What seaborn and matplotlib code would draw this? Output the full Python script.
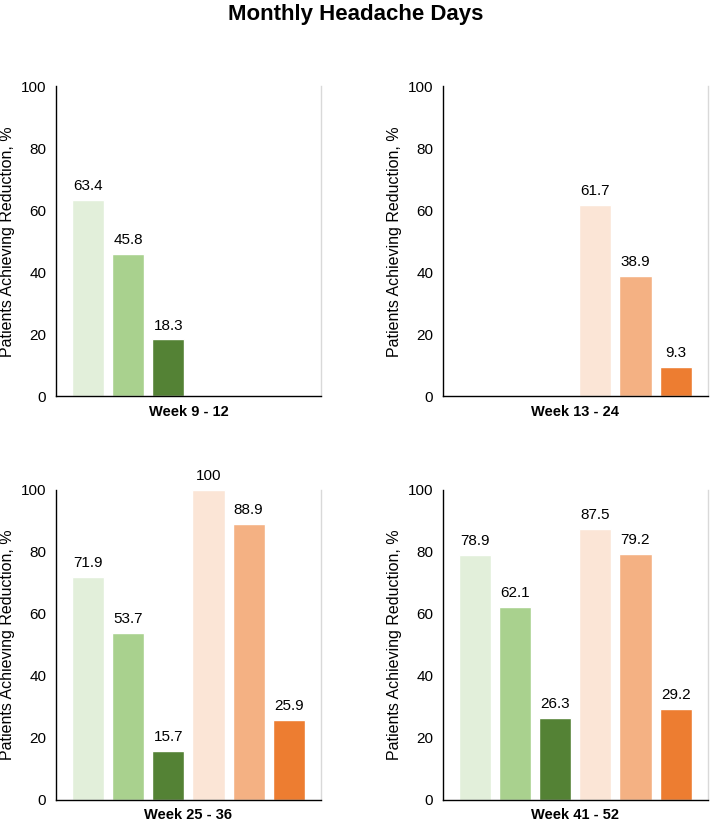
import numpy as np
import pandas as pd
import matplotlib
matplotlib.use("Agg")
import matplotlib.pyplot as plt
import seaborn as sns

### Data

groups = ["G1", "G2", "G3", "O1", "O2", "O3"]
colors = ["#E2EFDA", "#A9D18E", "#548235", "#FBE5D6", "#F4B183", "#ED7D31"]

periods = ["Week 9 - 12", "Week 13 - 24", "Week 25 - 36", "Week 41 - 52"]
week_9_12 = [63.4, 45.8, 18.3, np.nan, np.nan, np.nan]
week_13_24 = [np.nan, np.nan, np.nan, 61.7, 38.9, 9.3]
week_25_36 = [71.9, 53.7, 15.7, 100, 88.9, 25.9]
week_41_52 = [78.9, 62.1, 26.3, 87.5, 79.2, 29.2]
all_values = [week_9_12, week_13_24, week_25_36, week_41_52]

### Plot

sns.set_style("white")
plt.rcParams["font.family"] = ["Liberation Sans", "DejaVu Sans"]
plt.rcParams["text.color"] = "black"
plt.rcParams["axes.labelcolor"] = "black"
plt.rcParams["ytick.color"] = "black"

fig = plt.figure(figsize=(7.12, 8.22), dpi=100)
fig.suptitle("Monthly Headache Days", fontsize=16, fontweight="bold", y=0.995)

# axes positions in figure fraction
positions = [
    [0.0787, 0.518, 0.372, 0.377],
    [0.622, 0.518, 0.372, 0.377],
    [0.0787, 0.027, 0.372, 0.377],
    [0.622, 0.027, 0.372, 0.377],
]

for pos, period, vals in zip(positions, periods, all_values):
    ax = fig.add_axes(pos)
    df = pd.DataFrame({"group": groups, "value": vals}).dropna()
    sns.barplot(data=df, x="group", y="value", hue="group", order=groups,
                hue_order=groups, palette=colors, width=0.8, legend=False,
                saturation=1, ax=ax)
    for c in ax.containers:
        labels = ["" if np.isnan(v) else (f"{v:g}") for v in c.datavalues]
        ax.bar_label(c, labels=labels, padding=5, fontsize=11)
    ax.set_xlim(-0.8, 5.8)
    ax.set_ylim(0, 100)
    ax.set_yticks([0, 20, 40, 60, 80, 100])
    ax.set_xticks([])
    ax.tick_params(axis="y", labelsize=11, length=0, pad=7)
    ax.set_xlabel(period, fontsize=10.5, fontweight="bold", labelpad=6)
    ax.set_ylabel("Patients Achieving Reduction, %", fontsize=11.5, labelpad=4)
    ax.spines["top"].set_visible(False)
    ax.spines["left"].set_color("black")
    ax.spines["bottom"].set_color("black")
    ax.spines["left"].set_linewidth(1.0)
    ax.spines["bottom"].set_linewidth(1.0)
    ax.spines["right"].set_color("#D9D9D9")
    ax.spines["right"].set_linewidth(1.0)

plt.savefig("out.png", dpi=100)
